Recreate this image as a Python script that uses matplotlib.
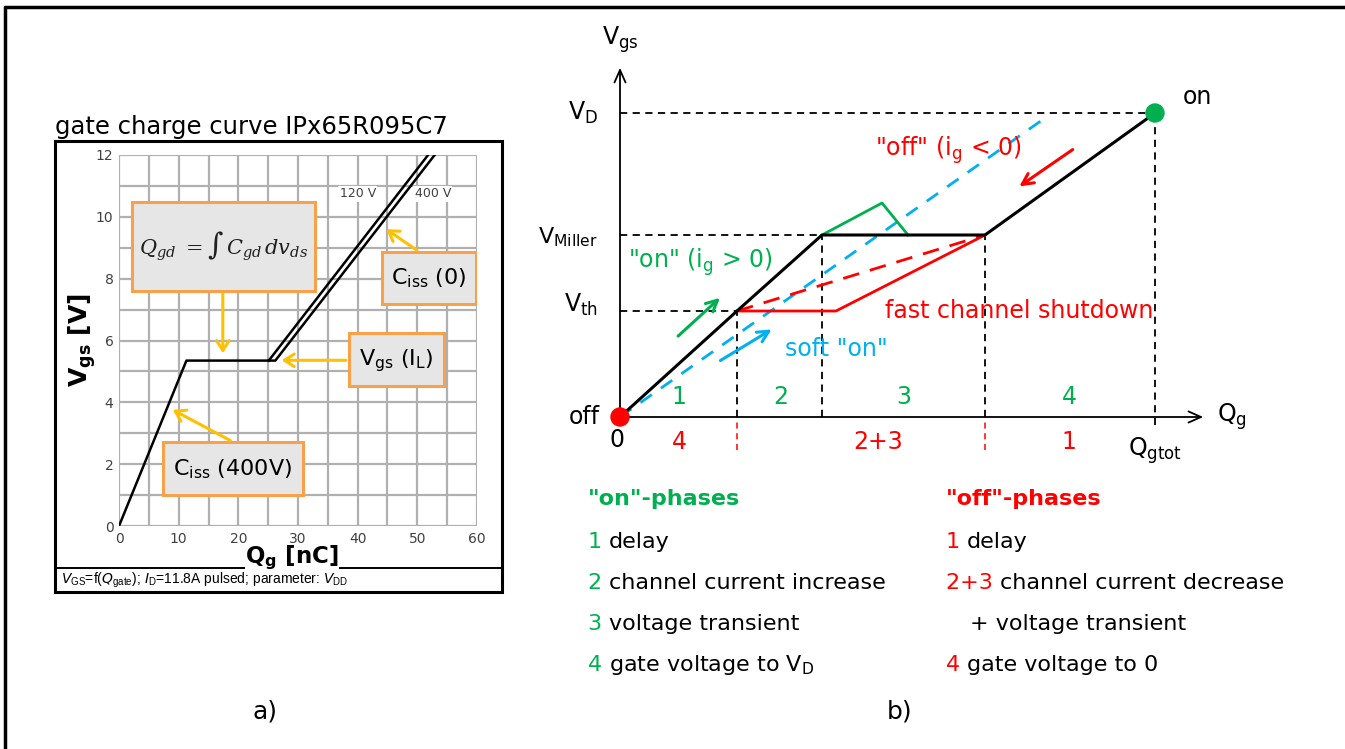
import numpy as np
import matplotlib
matplotlib.use("Agg")
import matplotlib.pyplot as plt
from matplotlib.patches import Rectangle, Circle

# ---- data: panel a) gate charge curve ----
q_common = [0, 11.3, 25.1]
v_common = [0, 5.35, 5.35]
q_120 = [25.1, 51.8]
v_120 = [5.35, 12]
q_400 = [25.1, 26.2, 52.9]
v_400 = [5.35, 5.35, 12]
x_ticks = [0, 10, 20, 30, 40, 50, 60]
y_ticks = [0, 2, 4, 6, 8, 10, 12]

# ---- data: panel b) idealised phases (Q units, V units) ----
q_th, q_miller, q_end, q_tot = 117, 202, 365, 535
v_th, v_miller, v_d = 106, 182, 304
q_black = [0, q_th, q_miller, q_end, q_tot]
v_black = [0, v_th, v_miller, v_miller, v_d]
q_red = [q_th, 216, q_end]
v_red = [v_th, v_th, v_miller]
q_green = [q_miller, 262, 288]
v_green = [v_miller, 214, v_miller]
q_blue = [0, 425]
v_blue = [0, 299]

on_phases = [("1", "delay"), ("2", "channel current increase"),
             ("3", "voltage transient"), ("4", "gate voltage to V$_\\mathregular{D}$")]
off_phases = [("1", "delay"), ("2+3", "channel current decrease"),
              ("", "+ voltage transient"), ("4", "gate voltage to 0")]

GREEN = "#00b050"
RED = "#ff0000"
BLUE = "#00b0f0"
GOLD = "#ffc000"
ORANGE = "#f8a14a"
BOXGRAY = "#e6e6e6"

W, H = 1345, 749
fig = plt.figure(figsize=(W / 100, H / 100), dpi=100)
ov = fig.add_axes([0, 0, 1, 1])
ov.set_xlim(0, W)
ov.set_ylim(H, 0)
ov.axis("off")

# outer frame
ov.plot([5, 5, W], [H, 7, 7], color="black", lw=2.5)

# ---------------- panel a ----------------
px0, px1, py0, py1 = 119, 477, 155, 526
ax = fig.add_axes([px0 / W, 1 - py1 / H, (px1 - px0) / W, (py1 - py0) / H])
ax.set_xlim(0, 60)
ax.set_ylim(0, 12)
ax.set_xticks(x_ticks)
ax.set_xticks(np.arange(5, 60, 10), minor=True)
ax.set_yticks(y_ticks)
ax.set_yticks(np.arange(1, 12, 2), minor=True)
ax.grid(True, which="both", color="#b0b0b0", lw=1.6)
ax.tick_params(which="both", length=0, labelsize=10, colors="#404040", pad=4)
for s in ax.spines.values():
    s.set_visible(False)
ax.set_axisbelow(True)

ax.plot(q_common, v_common, color="black", lw=1.8)
ax.plot(q_120, v_120, color="black", lw=1.8)
ax.plot(q_400, v_400, color="black", lw=1.8)
ax.text(40, 10.75, "120 V", fontsize=9, color="#404040", ha="center", va="center",
        bbox=dict(fc="white", ec="none", pad=1))
ax.text(52.6, 10.75, "400 V", fontsize=9, color="#404040", ha="center", va="center",
        bbox=dict(fc="white", ec="none", pad=1))

def box(x0, y0, x1, y1):
    ax.add_patch(Rectangle((x0, y0), x1 - x0, y1 - y0, fc=BOXGRAY, ec=ORANGE, lw=2.2, zorder=4))

def garrow(xy_from, xy_to):
    ax.annotate("", xy=xy_to, xytext=xy_from, zorder=5,
                arrowprops=dict(arrowstyle="->,head_length=0.7,head_width=0.45", color=GOLD, lw=2.2))

box(2.2, 7.61, 32.9, 10.49)
ax.text(17.6, 9.05, r"$Q_{gd}\ =\int\, C_{gd}\, dv_{ds}$", fontsize=15, ha="center", va="center",
        zorder=6, family="DejaVu Serif", math_fontfamily="dejavuserif", color="#202020")
box(44.1, 7.18, 59.9, 8.87)
ax.text(52, 8.0, r"C$_\mathregular{iss}$ (0)", fontsize=16, ha="center", va="center", zorder=6)
box(38.5, 4.52, 54.4, 6.23)
ax.text(46.4, 5.35, r"V$_\mathregular{gs}$ (I$_\mathregular{L}$)", fontsize=16, ha="center", va="center", zorder=6)
box(7.4, 0.99, 30.9, 2.72)
ax.text(19.1, 1.83, r"C$_\mathregular{iss}$ (400V)", fontsize=16, ha="center", va="center", zorder=6)

garrow((17.4, 7.61), (17.4, 5.5))
garrow((50.3, 8.87), (44.4, 9.65))
garrow((38.5, 5.36), (26.8, 5.36))
garrow((19.1, 2.72), (8.6, 3.8))

# frame around the datasheet figure
ov.add_patch(Rectangle((55, 141), 447, 451, fc="none", ec="black", lw=2.2, zorder=1))
ov.plot([55, 502], [568, 568], color="black", lw=1.4)
ov.text(55, 127, "gate charge curve IPx65R095C7", fontsize=17.5, va="center", ha="left")
ov.text(292, 558, r"$\mathbf{Q_g}$ [nC]", fontsize=16.5, fontweight="bold", ha="center", va="center",
        bbox=dict(fc="white", ec="none", pad=0.2))
ov.text(82, 340, r"$\mathbf{V_{gs}}$ [V]", fontsize=18, fontweight="bold", ha="center", va="center",
        rotation=90)
ov.text(61, 580, r"$V_{\mathregular{GS}}$=f($Q_{\mathregular{gate}}$); $I_{\mathregular{D}}$=11.8A pulsed; parameter: $V_{\mathregular{DD}}$",
        fontsize=10, va="center", ha="left", family="Liberation Sans", math_fontfamily="custom")
ov.text(265, 712, "a)", fontsize=18, ha="center", va="center")

# ---------------- panel b ----------------
bx0, bx1, by0, by1 = 540, 1260, 20, 470
bx = fig.add_axes([bx0 / W, 1 - by1 / H, (bx1 - bx0) / W, (by1 - by0) / H])
bx.set_xlim(-80, 640)
bx.set_ylim(-53, 397)
bx.axis("off")

# axes with arrows
bx.annotate("", xy=(0, 352), xytext=(0, 0),
            arrowprops=dict(arrowstyle="->,head_length=0.9,head_width=0.4", color="black", lw=1.3))
bx.annotate("", xy=(586, 0), xytext=(0, 0),
            arrowprops=dict(arrowstyle="->,head_length=0.9,head_width=0.4", color="black", lw=1.3))

dash = dict(color="black", lw=1.3, ls=(0, (4, 3)))
bx.plot([0, q_tot], [v_d, v_d], **dash)
bx.plot([0, q_miller], [v_miller, v_miller], **dash)
bx.plot([0, q_th], [v_th, v_th], **dash)
bx.plot([q_th, q_th], [0, v_th], **dash)
bx.plot([q_miller, q_miller], [0, v_miller], **dash)
bx.plot([q_end, q_end], [0, v_miller], **dash)
bx.plot([q_tot, q_tot], [-8, v_d], **dash)
bx.plot([q_th, q_th], [-33, 0], color=RED, lw=1.1, ls=(0, (4, 3)))
bx.plot([q_end, q_end], [-33, 0], color=RED, lw=1.1, ls=(0, (4, 3)))

bx.plot(q_blue, v_blue, color=BLUE, lw=2, ls=(0, (5, 4)))
bx.plot([q_th, q_end], [v_th, v_miller], color=RED, lw=2, ls=(0, (6, 4)))
bx.plot(q_red, v_red, color=RED, lw=2)
bx.plot(q_green, v_green, color=GREEN, lw=2)
bx.plot(q_black, v_black, color="black", lw=2.2)

bx.add_patch(Circle((0, 0), 9, color=RED, zorder=6))
bx.add_patch(Circle((q_tot, v_d), 9, color=GREEN, zorder=6))

def carrow(p0, p1, c):
    bx.annotate("", xy=p1, xytext=p0,
                arrowprops=dict(arrowstyle="->,head_length=0.8,head_width=0.4", color=c, lw=2.2))

carrow((56, 79), (102, 121), GREEN)
carrow((98, 55), (154, 89), BLUE)
carrow((455, 269), (397, 229), RED)

fs = 17
bx.text(0, 377, r"V$_\mathregular{gs}$", fontsize=fs, ha="center", va="center")
bx.text(-22, v_d, r"V$_\mathregular{D}$", fontsize=fs, ha="right", va="center")
bx.text(-22, v_miller - 2, r"V$_\mathregular{Miller}$", fontsize=fs - 1, ha="right", va="center")
bx.text(-22, v_th + 6, r"V$_\mathregular{th}$", fontsize=fs, ha="right", va="center")
bx.text(-20, 0, "off", fontsize=fs, ha="right", va="center")
bx.text(-3, -23, "0", fontsize=fs, ha="center", va="center")
bx.text(563, 320, "on", fontsize=fs, ha="left", va="center")
bx.text(612, 0, r"Q$_\mathregular{g}$", fontsize=fs, ha="center", va="center")
bx.text(q_tot, -34, r"Q$_\mathregular{gtot}$", fontsize=fs, ha="center", va="center")

bx.text(328, 267, "\"off\" (i$_\\mathregular{g}$ < 0)", fontsize=fs, color=RED, ha="center", va="center")
bx.text(80, 155, "\"on\" (i$_\\mathregular{g}$ > 0)", fontsize=fs, color=GREEN, ha="center", va="center")
bx.text(399, 106, "fast channel shutdown", fontsize=fs, color=RED, ha="center", va="center")
bx.text(216, 68, "soft \"on\"", fontsize=fs, color=BLUE, ha="center", va="center")

for x, t in zip([59, 161, 284, 449], ["1", "2", "3", "4"]):
    bx.text(x, 20, t, fontsize=fs, color=GREEN, ha="center", va="center")
for x, t in zip([59, 258, 449], ["4", "2+3", "1"]):
    bx.text(x, -25, t, fontsize=fs, color=RED, ha="center", va="center")

# legend text
lfs = 16
ov.text(588, 499, "\"on\"-phases", fontsize=lfs, fontweight="bold", color=GREEN, va="center")
ov.text(946, 499, "\"off\"-phases", fontsize=lfs, fontweight="bold", color=RED, va="center")
rows = [542, 583, 624, 665]
for y, (n, t) in zip(rows, on_phases):
    a = ov.text(588, y, n + " ", fontsize=lfs, color=GREEN, va="center")
    ov.annotate(t, xycoords=a, xy=(1, 0.5), va="center", fontsize=lfs)
for y, (n, t) in zip(rows, off_phases):
    if n:
        a = ov.text(946, y, n + " ", fontsize=lfs, color=RED, va="center")
        ov.annotate(t, xycoords=a, xy=(1, 0.5), va="center", fontsize=lfs)
    else:
        ov.text(970, y, t, fontsize=lfs, va="center")
ov.text(900, 712, "b)", fontsize=18, ha="center", va="center")

fig.savefig("out.png", dpi=100)
